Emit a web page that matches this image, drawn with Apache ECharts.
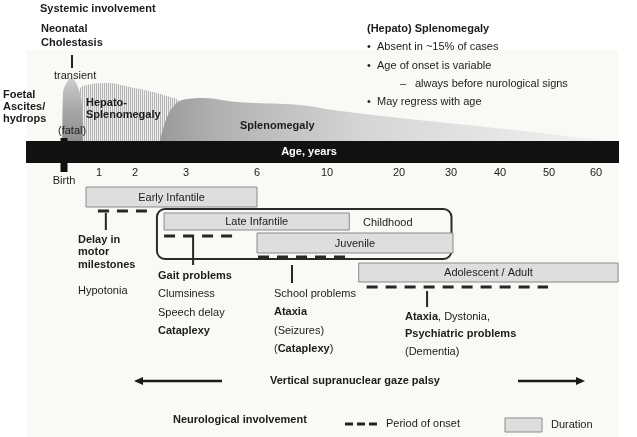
<!DOCTYPE html>
<html><head><meta charset="utf-8">
<script src="https://cdn.jsdelivr.net/npm/echarts@6/dist/echarts.min.js"></script>
<style>html,body{margin:0;padding:0;background:#fff}#c{width:637px;height:437px}</style>
</head><body><div id="c"></div>
<script>
// ---------------- DATA ----------------
const tickAges   = [0, 1, 2, 3, 6, 10, 20, 30, 40, 50, 60];
const tickLabels = ['Birth', '1', '2', '3', '6', '10', '20', '30', '40', '50', '60'];

const phaseNames = ['Early Infantile', 'Late Infantile', 'Juvenile', 'Adolescent / Adult'];
const phaseStart = [0.63, 2.57, 6.0, 14.4];
const phaseEnd   = [6.0, 13.1, 30.4, 64.7];
const onsetStart = [0.97, 2.57, 6.06, 15.5];
const onsetEnd   = [2.24, 5.0, 12.8, 49.8];
const signAge    = [1.19, 3.3, 8.0, 25.4];
const childhoodSpan = [2.43, 30.1];

const transientAge   = [-0.05, -0.03, 0.09, 0.2, 0.31, 0.43, 0.51, 0.54];
const transientLevel = [0, 48, 59, 63, 60, 51, 38, 0];
const hepatoAge   = [0.43, 0.46, 0.66, 1.22, 1.86, 2.35, 2.69, 2.84, 3.1, 3.2];
const hepatoLevel = [0, 52, 56, 58, 54, 49, 44, 41, 25, 0];
const splenoAge   = [2.49, 2.63, 2.82, 3.04, 3.72, 5.15, 8.46, 10.8, 20.2, 33.3, 46.7, 57.2, 64.3];
const splenoLevel = [0, 24, 38, 42, 43, 39, 36, 31, 23, 16, 9, 3, 0];

// ---------------- LAYOUT ----------------
// non-uniform age scale: axis position of each tick age
const tickPos = [64, 99, 135, 186, 257, 327, 399, 451, 500, 549, 596];
function ageToPos(a) {
  const n = tickAges.length;
  if (a <= tickAges[0]) return tickPos[0] + (a - tickAges[0]) * (tickPos[1] - tickPos[0]) / (tickAges[1] - tickAges[0]);
  for (let i = 1; i < n; i++) {
    if (a <= tickAges[i]) {
      const t = (a - tickAges[i - 1]) / (tickAges[i] - tickAges[i - 1]);
      return tickPos[i - 1] + t * (tickPos[i] - tickPos[i - 1]);
    }
  }
  return tickPos[n - 1] + (a - tickAges[n - 1]) * (tickPos[n - 1] - tickPos[n - 2]) / (tickAges[n - 1] - tickAges[n - 2]);
}
const phaseRowTop = [187, 213, 233, 263];
const phaseRowBot = [207, 230, 253, 282];
const onsetRowY   = [211, 236, 257, 287];
const signY1      = [213, 237, 265, 291];
const signY2      = [230, 265, 283, 307];
const childhoodRow = [209, 259];

const FONT = 'Liberation Sans, Arial, sans-serif';
const TXT = '#1c1c1c';

const chart = echarts.init(document.getElementById('c'), null, {renderer: 'canvas'});

// hatch pattern
const pat = document.createElement('canvas');
pat.width = 2; pat.height = 2;
const pctx = pat.getContext('2d');
pctx.fillStyle = '#efefef'; pctx.fillRect(0, 0, 2, 2);
pctx.fillStyle = '#b3b3b3'; pctx.fillRect(0, 0, 1, 2);

function pts(ages, lev) { return ages.map((a, i) => [ageToPos(a), lev[i]]); }

const texts = [
  // [text, x, y, bold, align]
  ['Systemic involvement', 40, 9, true],
  ['Neonatal', 41, 29, true],
  ['Cholestasis', 41, 43, true],
  ['transient', 54, 76, false],
  ['Foetal', 3, 95, true],
  ['Ascites/', 3, 107, true],
  ['hydrops', 3, 119, true],
  ['(fatal)', 58, 131, false],
  ['Hepato-', 86, 103, true],
  ['Splenomegaly', 86, 115, true],
  ['Splenomegaly', 240, 126, true],
  ['(Hepato) Splenomegaly', 367, 29, true],
  ['•', 367, 47, false], ['Absent in ~15% of cases', 377, 47, false],
  ['•', 367, 66, false], ['Age of onset is variable', 377, 66, false],
  ['–', 400, 84, false], ['always before nurological signs', 415, 84, false],
  ['•', 367, 102, false], ['May regress with age', 377, 102, false],
  ['Delay in', 78, 240, true],
  ['motor', 78, 252, true],
  ['milestones', 78, 265, true],
  ['Hypotonia', 78, 291, false],
  ['Childhood', 363, 223, false],
  ['Gait problems', 158, 276, true],
  ['Clumsiness', 158, 294, false],
  ['Speech delay', 158, 313, false],
  ['Cataplexy', 158, 331, true],
  ['School problems', 274, 294, false],
  ['Ataxia', 274, 312, true],
  ['(Seizures)', 274, 331, false],
  ['({b|Cataplexy})', 274, 349, false],
  ['{b|Ataxia}, Dystonia,', 405, 317, false],
  ['Psychiatric problems', 405, 334, true],
  ['(Dementia)', 405, 352, false],
  ['Vertical supranuclear gaze palsy', 355, 381, true, 'center'],
  ['Neurological involvement', 173, 420, true],
  ['Period of onset', 386, 424, false],
  ['Duration', 551, 425, false]
];

const graphics = [
  {type: 'rect', z: -10, shape: {x: 27, y: 50, width: 592, height: 387}, style: {fill: '#f9f9f6'}},
  {type: 'rect', z: 50, shape: {x: 26, y: 141, width: 593, height: 22}, style: {fill: '#111111'}},
  {type: 'text', z: 100, x: 309, y: 152, style: {text: 'Age, years', fontFamily: FONT, fontSize: 11, fontWeight: 'bold', fill: '#ffffff', align: 'center', verticalAlign: 'middle'}},
  {type: 'line', z: 100, shape: {x1: 72, y1: 55, x2: 72, y2: 68}, style: {stroke: '#222', lineWidth: 2}},
  // arrows
  {type: 'line', z: 100, shape: {x1: 222, y1: 381, x2: 142, y2: 381}, style: {stroke: '#1a1a1a', lineWidth: 2.5}},
  {type: 'polygon', z: 100, shape: {points: [[134, 381], [143, 377], [143, 385]]}, style: {fill: '#1a1a1a'}},
  {type: 'line', z: 100, shape: {x1: 518, y1: 381, x2: 577, y2: 381}, style: {stroke: '#1a1a1a', lineWidth: 2.5}},
  {type: 'polygon', z: 100, shape: {points: [[585, 381], [576, 377], [576, 385]]}, style: {fill: '#1a1a1a'}},
  // legend
  {type: 'line', z: 100, shape: {x1: 345, y1: 424, x2: 377, y2: 424}, style: {stroke: '#222', lineWidth: 3, lineDash: [8, 4]}},
  {type: 'rect', z: 100, shape: {x: 505, y: 418, width: 37, height: 14}, style: {fill: '#dedede', stroke: '#8c8c8c', lineWidth: 1}}
];
texts.forEach(t => {
  graphics.push({type: 'text', z: 100, x: t[1], y: t[2], style: {
    text: t[0], fontFamily: FONT, fontSize: 11, fontWeight: t[3] ? 'bold' : 'normal', fill: TXT,
    align: t[4] || 'left', verticalAlign: 'middle',
    rich: {b: {fontFamily: FONT, fontSize: 11, fontWeight: 'bold', fill: TXT}}
  }});
});

const option = {
  animation: false,
  backgroundColor: '#ffffff',
  grid: [
    {left: 0, top: 0, width: 637, height: 141},
    {left: 0, top: 0, width: 637, height: 437}
  ],
  xAxis: [
    {type: 'value', gridIndex: 0, min: 0, max: 637, axisLine: {show: false}, axisTick: {show: false}, splitLine: {show: false},
      axisLabel: {customValues: tickPos, margin: 26, fontFamily: FONT, fontSize: 11, color: TXT,
        formatter: v => { const i = tickPos.indexOf(v); return i === 0 ? '{b|' + tickLabels[0] + '}' : (i > 0 ? tickLabels[i] : ''); },
        rich: {b: {fontFamily: FONT, fontSize: 11, color: TXT, padding: [8, 0, 0, 0]}}}},
    {type: 'value', gridIndex: 1, min: 0, max: 637, show: false}
  ],
  yAxis: [
    {type: 'value', gridIndex: 0, min: 0, max: 141, show: false},
    {type: 'value', gridIndex: 1, min: 0, max: 437, inverse: true, show: false}
  ],
  graphic: graphics,
  series: [
    {type: 'line', name: 'Hepato-Splenomegaly', xAxisIndex: 0, yAxisIndex: 0, z: 2, smooth: 0.4, symbol: 'none',
      lineStyle: {width: 0}, data: pts(hepatoAge, hepatoLevel),
      areaStyle: {opacity: 1, color: {image: pat, repeat: 'repeat'}}},
    {type: 'line', name: 'transient', xAxisIndex: 0, yAxisIndex: 0, z: 3, smooth: 0.4, symbol: 'none',
      lineStyle: {width: 0}, data: pts(transientAge, transientLevel),
      areaStyle: {opacity: 1, color: new echarts.graphic.LinearGradient(0, 0, 0, 1, [
        {offset: 0, color: '#cdcdcd'}, {offset: 0.5, color: '#a8a8a8'}, {offset: 1, color: '#8e8e8e'}])}},
    {type: 'line', name: 'Splenomegaly', xAxisIndex: 0, yAxisIndex: 0, z: 4, smooth: 0.4, symbol: 'none',
      lineStyle: {width: 0}, data: pts(splenoAge, splenoLevel),
      areaStyle: {opacity: 1, color: new echarts.graphic.LinearGradient(0, 0, 1, 0, [
        {offset: 0, color: '#9a9a9a'}, {offset: 0.12, color: '#b0b0b0'}, {offset: 0.45, color: '#d6d6d6'}, {offset: 1, color: '#f3f3f3'}])}},
    // birth tick
    {type: 'custom', xAxisIndex: 1, yAxisIndex: 1, z: 60,
      data: [[ageToPos(tickAges[0]), 138, 172]],
      renderItem: (p, api) => {
        const a = api.coord([api.value(0), api.value(1)]), b = api.coord([api.value(0), api.value(2)]);
        return {type: 'rect', shape: {x: a[0] - 3.5, y: a[1], width: 7, height: b[1] - a[1]}, style: {fill: '#111'}};
      }},
    // childhood box
    {type: 'custom', xAxisIndex: 1, yAxisIndex: 1, z: 8,
      data: [[ageToPos(childhoodSpan[0]), ageToPos(childhoodSpan[1]), childhoodRow[0], childhoodRow[1]]],
      renderItem: (p, api) => {
        const a = api.coord([api.value(0), api.value(2)]), b = api.coord([api.value(1), api.value(3)]);
        return {type: 'rect', shape: {x: a[0], y: a[1], width: b[0] - a[0], height: b[1] - a[1], r: 8},
          style: {fill: 'none', stroke: '#2a2a2a', lineWidth: 2}};
      }},
    // phase bars
    {type: 'custom', xAxisIndex: 1, yAxisIndex: 1, z: 10,
      data: phaseNames.map((n, i) => [ageToPos(phaseStart[i]), ageToPos(phaseEnd[i]), phaseRowTop[i], phaseRowBot[i], n]),
      renderItem: (p, api) => {
        const a = api.coord([api.value(0), api.value(2)]), b = api.coord([api.value(1), api.value(3)]);
        return {type: 'group', children: [
          {type: 'rect', shape: {x: a[0], y: a[1], width: b[0] - a[0], height: b[1] - a[1]},
            style: {fill: '#dedede', stroke: '#8a8a8a', lineWidth: 1}},
          {type: 'text', x: (a[0] + b[0]) / 2, y: (a[1] + b[1]) / 2 + 0.5,
            style: {text: phaseNames[p.dataIndex], fontFamily: FONT, fontSize: 11, fill: TXT, align: 'center', verticalAlign: 'middle'}}
        ]};
      }},
    // onset dashes
    {type: 'custom', xAxisIndex: 1, yAxisIndex: 1, z: 12,
      data: onsetStart.map((s, i) => [ageToPos(s), ageToPos(onsetEnd[i]), onsetRowY[i]]),
      renderItem: (p, api) => {
        const a = api.coord([api.value(0), api.value(2)]), b = api.coord([api.value(1), api.value(2)]);
        return {type: 'line', shape: {x1: a[0], y1: a[1], x2: b[0], y2: b[1]},
          style: {stroke: '#262626', lineWidth: 3, lineDash: [11, 8]}};
      }},
    // sign connectors
    {type: 'custom', xAxisIndex: 1, yAxisIndex: 1, z: 12,
      data: signAge.map((s, i) => [ageToPos(s), signY1[i], signY2[i]]),
      renderItem: (p, api) => {
        const a = api.coord([api.value(0), api.value(1)]), b = api.coord([api.value(0), api.value(2)]);
        return {type: 'line', shape: {x1: a[0], y1: a[1], x2: b[0], y2: b[1]}, style: {stroke: '#262626', lineWidth: 2}};
      }}
  ]
};
chart.setOption(option);
</script>
</body></html>
